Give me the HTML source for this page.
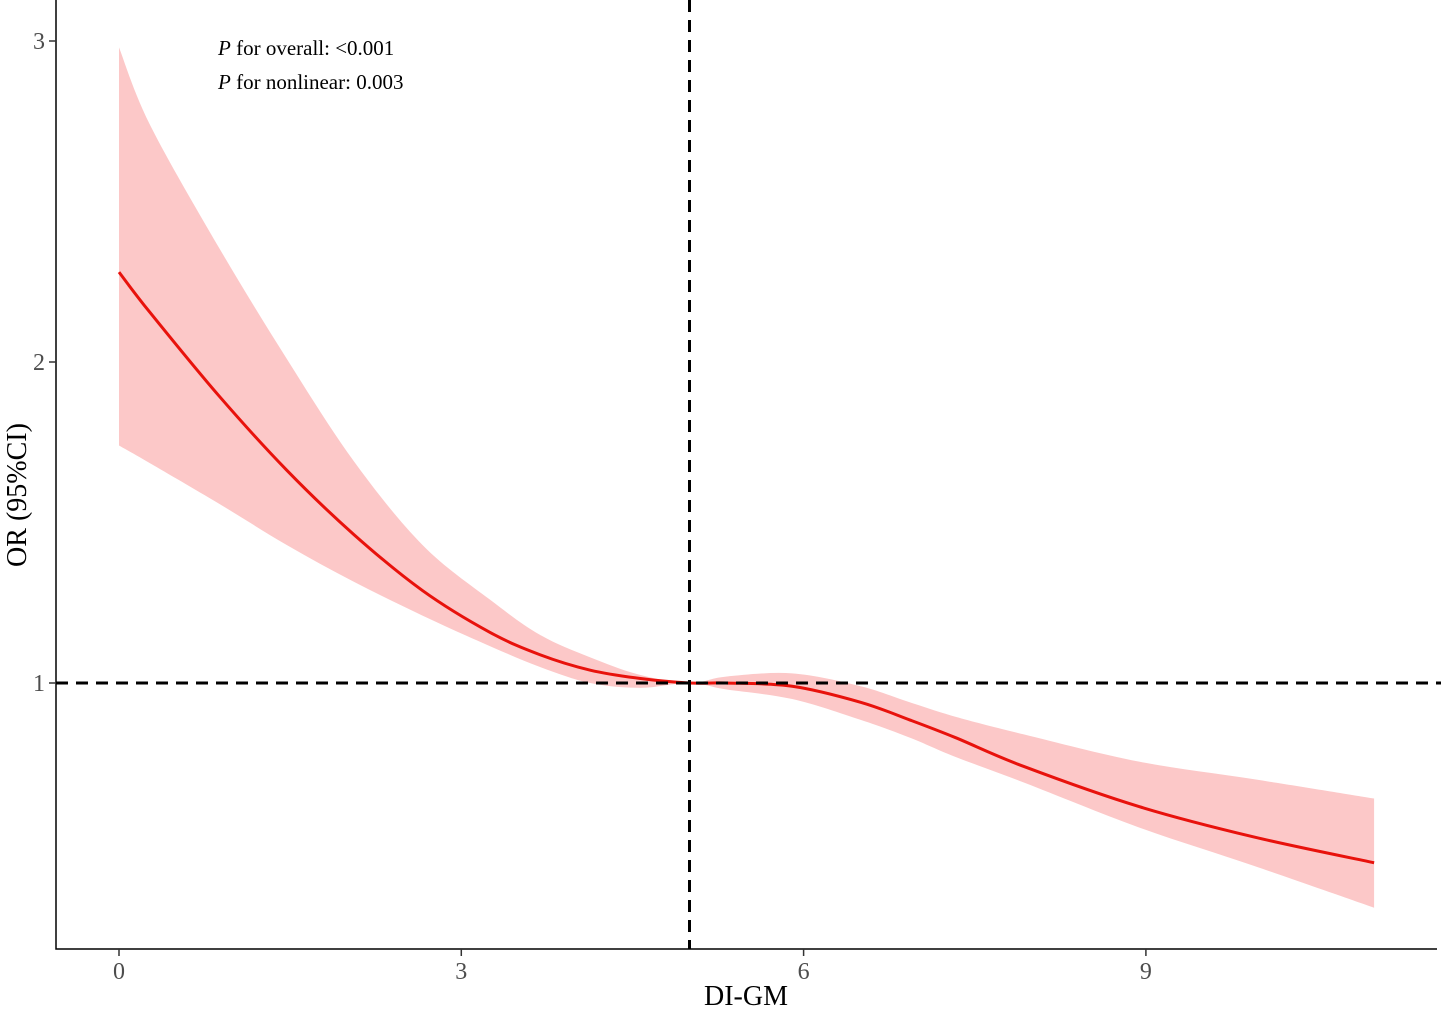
<!DOCTYPE html>
<html><head><meta charset="utf-8"><style>
html,body{margin:0;padding:0;background:#fff;}
svg{display:block;font-family:"Liberation Serif",serif;}
</style></head><body>
<svg id="chart" width="1441" height="1011">
<g id="band"></g>
<g id="line"></g>
<g id="refs"></g>
<g id="axes"></g>
<text x="218" y="55" font-size="21"><tspan font-style="italic">P</tspan> for overall: &lt;0.001</text>
<text x="218" y="89" font-size="21"><tspan font-style="italic">P</tspan> for nonlinear: 0.003</text>
<text x="746" y="1005" font-size="28" text-anchor="middle">DI-GM</text>
<text transform="translate(26,495) rotate(-90)" font-size="28" text-anchor="middle">OR (95%CI)</text>
</svg>
<script>
const xs=[0,0.27,0.87,1.47,2.06,2.66,3.25,3.69,4.13,4.57,5,5.32,5.9,6.5,6.93,7.33,7.93,8.94,9.95,11];
const est=[2.28,2.155,1.897,1.663,1.462,1.288,1.158,1.088,1.04,1.014,1.0,1.0,0.99,0.94,0.885,0.83,0.74,0.615,0.52,0.44];
const upper=[2.98,2.74,2.36,2.01,1.69,1.43,1.26,1.15,1.08,1.025,1.0,1.02,1.03,0.99,0.94,0.895,0.84,0.755,0.70,0.64];
const lower=[1.74,1.685,1.56,1.43,1.315,1.21,1.115,1.05,1.0,0.985,1.0,0.98,0.95,0.885,0.83,0.77,0.69,0.55,0.43,0.30];
const xTicks=[0,3,6,9];
const yTicks=[1,2,3];
const refX=5, refY=1;
const X=v=>119+v*114.1;
const Y=v=>683-(v-1)*321;
const NS="http://www.w3.org/2000/svg";
function pts(ys){return xs.map((x,i)=>[X(x),Y(ys[i])]);}
function cr(p,move){let d=move?`M${p[0][0]},${p[0][1]}`:`L${p[0][0]},${p[0][1]}`;
for(let i=0;i<p.length-1;i++){const p0=p[i-1]||p[i],p1=p[i],p2=p[i+1],p3=p[i+2]||p2;
d+=`C${p1[0]+(p2[0]-p0[0])/6},${p1[1]+(p2[1]-p0[1])/6} ${p2[0]-(p3[0]-p1[0])/6},${p2[1]-(p3[1]-p1[1])/6} ${p2[0]},${p2[1]}`;}return d;}
function mk(tag,parent,attrs){const e=document.createElementNS(NS,tag);for(const k in attrs)e.setAttribute(k,attrs[k]);document.getElementById(parent).appendChild(e);return e;}
const b=mk('path','band',{d:cr(pts(upper),true)+cr(pts(lower).reverse(),false)+'Z',fill:'#fcc8c8'});


const l=mk('path','line',{d:cr(pts(est),true),fill:'none',stroke:'#e8120c','stroke-width':3});


const h=mk('line','refs',{x1:56,x2:1441,y1:Y(refY),y2:Y(refY),stroke:'#000','stroke-width':3,'stroke-dasharray':'12 8'});


const v=mk('line','refs',{x1:X(refX),x2:X(refX),y1:0,y2:949,stroke:'#000','stroke-width':3,'stroke-dasharray':'12 8'});


const ax=mk('path','axes',{d:'M56,0V949H1437',fill:'none',stroke:'#000','stroke-width':1.5});


xTicks.forEach(t=>{const tk=mk('line','axes',{x1:X(t),x2:X(t),y1:949,y2:956,stroke:'#333','stroke-width':1.5});


const tx=mk('text','axes',{x:X(t),y:979,'font-size':24,fill:'#4d4d4d','text-anchor':'middle'});tx.textContent=t;

});
yTicks.forEach(t=>{const tk=mk('line','axes',{x1:49,x2:56,y1:Y(t),y2:Y(t),stroke:'#333','stroke-width':1.5});


const tx=mk('text','axes',{x:45,y:Y(t)+8,'font-size':24,fill:'#4d4d4d','text-anchor':'end'});tx.textContent=t;

});
</script>
</body></html>
